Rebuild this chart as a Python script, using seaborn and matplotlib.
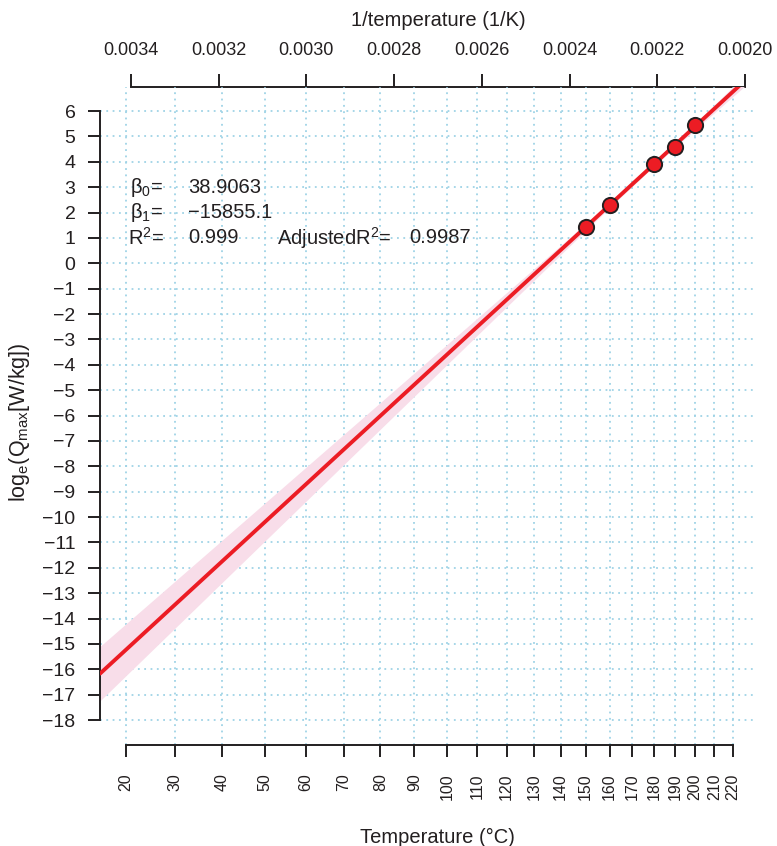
#!/usr/bin/env python3
"""Arrhenius-type plot: log_e(Qmax) against 1/T with a linear fit and 95% band."""

import numpy as np
import matplotlib

matplotlib.use("Agg")
import matplotlib.pyplot as plt  # noqa: E402
import seaborn as sns  # noqa: E402

# measured points
temp_c = [150, 160, 180, 190, 200]
log_q = [1.44, 2.30, 3.90, 4.60, 5.46]

# axis ticks
celsius_ticks = list(range(20, 221, 10))
inv_ticks = [0.0034, 0.0032, 0.0030, 0.0028, 0.0026, 0.0024, 0.0022, 0.0020]
y_ticks = list(range(-18, 7))

# reported fit statistics (as printed on the figure)
beta0_txt = "38.9063"
beta1_txt = "\u221215855.1"
r2_txt = "0.999"
adj_r2_txt = "0.9987"

KELVIN = 273.15
T_CRIT = 3.182  # Student t, 0.975 quantile, df = 3

sns.set_theme(style="white")
plt.rcParams["font.family"] = ["Liberation Sans", "DejaVu Sans"]
plt.rcParams["mathtext.fontset"] = "custom"
plt.rcParams["mathtext.rm"] = "Liberation Sans"
plt.rcParams["mathtext.it"] = "Liberation Sans:italic"

INK = "#231f20"
GRID = "#9fd3e6"
RED = "#ec1c24"
BAND = "#f8dde9"


def minus(v):
    return str(v).replace("-", "\u2212")


inv_t = 1.0 / (np.asarray(temp_c, dtype=float) + KELVIN)
y = np.asarray(log_q)

# ordinary least squares fit + confidence band of the mean
b1, b0 = np.polyfit(inv_t, y, 1)
resid = y - (b0 + b1 * inv_t)
n = len(y)
sigma = np.sqrt((resid**2).sum() / (n - 2))
sxx = ((inv_t - inv_t.mean()) ** 2).sum()

x_left, x_right = 0.0034707, 0.0019726
xs = np.linspace(x_right, x_left, 300)
fit = b0 + b1 * xs
half = T_CRIT * sigma * np.sqrt(1 / n + (xs - inv_t.mean()) ** 2 / sxx)

fig = plt.figure(figsize=(7.77, 8.46), dpi=100)
ax = fig.add_axes([100 / 777, (846 - 745) / 846, 657 / 777, 658 / 846])
ax.set_xlim(x_left, x_right)
ax.set_ylim(-18.985, 6.946)

ax.set_xticks([1 / (t + KELVIN) for t in celsius_ticks])
ax.set_xticklabels([str(t) for t in celsius_ticks])
ax.set_yticks(y_ticks)
ax.set_yticklabels([minus(v) for v in y_ticks])
ax.grid(True, color=GRID, linestyle=(0, (1, 2.5)), linewidth=1.3)
ax.set_axisbelow(True)

ax.fill_between(xs, fit - half, fit + half, color=BAND, linewidth=0, zorder=1)
sns.lineplot(x=xs, y=fit, color=RED, linewidth=2.8, ax=ax, zorder=3)
sns.scatterplot(
    x=inv_t, y=y, s=120, color=RED, edgecolor=INK, linewidth=1.4, ax=ax, zorder=4
)

for side in ("top", "right"):
    ax.spines[side].set_visible(False)
ax.spines["left"].set_bounds(-18, 6)
ax.spines["bottom"].set_bounds(1 / (20 + KELVIN), 1 / (220 + KELVIN))
for side in ("left", "bottom"):
    ax.spines[side].set_color(INK)
    ax.spines[side].set_linewidth(1.4)

ax.tick_params(axis="x", direction="out", length=8.6, width=1.4, color=INK,
               pad=12, labelsize=11.5, labelrotation=90, labelcolor=INK,
               bottom=True)
ax.tick_params(axis="y", direction="out", length=8.6, width=1.4, color=INK,
               pad=9, labelsize=14, labelcolor=INK, left=True)

sec = ax.secondary_xaxis("top")
sec.set_xticks(inv_ticks)
sec.set_xticklabels([f"{v:.4f}" for v in inv_ticks])
sec.spines["top"].set_bounds(min(inv_ticks), max(inv_ticks))
sec.spines["top"].set_color(INK)
sec.spines["top"].set_linewidth(1.4)
sec.tick_params(axis="x", direction="out", length=9.4, width=1.4, color=INK,
                pad=11, labelsize=13, labelcolor=INK)
fig.text(438 / 777, 1 - 20 / 846, "1/temperature (1/K)", fontsize=14.5,
         color=INK, ha="center", va="center")

ax.set_xlabel("Temperature (\u00b0C)", fontsize=14.5, color=INK)
ax.xaxis.set_label_coords(0.514, -0.126)
ax.set_ylabel(r"log$_\mathrm{e}$(Q$_\mathrm{max}$[W/kg])", fontsize=15.5, color=INK)
ax.yaxis.set_label_coords(-0.103, 0.49)

tr = ax.get_yaxis_transform()
txt = dict(transform=tr, fontsize=14.5, color=INK, va="center", ha="left")
ax.text(0.046, 3, r"$\mathrm{\beta_0}$=", **txt)
ax.text(0.134, 3, beta0_txt, **txt)
ax.text(0.046, 2, r"$\mathrm{\beta_1}$=", **txt)
ax.text(0.134, 2, beta1_txt, **txt)
ax.text(0.043, 1, r"R$^2$=", **txt)
ax.text(0.134, 1, r2_txt, **txt)
ax.text(0.269, 1, r"AdjustedR$^2$=", **txt)
ax.text(0.470, 1, adj_r2_txt, **txt)

fig.savefig("out.png", dpi=100)
